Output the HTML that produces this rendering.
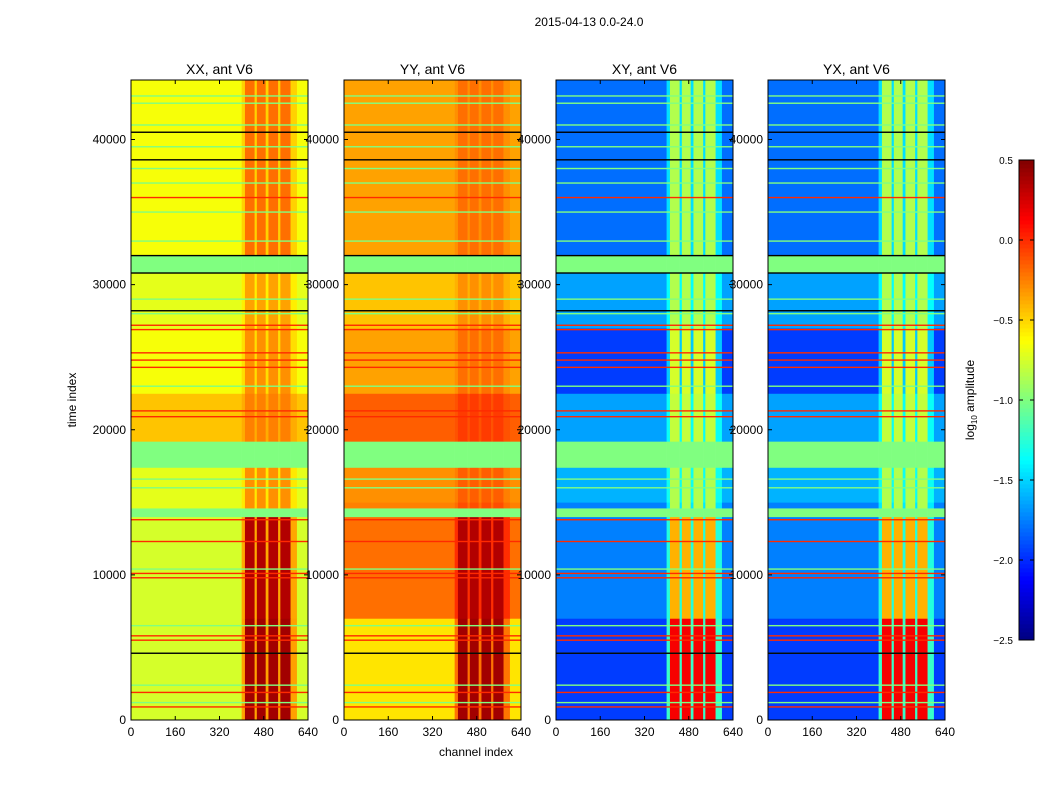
<!DOCTYPE html>
<html><head><meta charset="utf-8">
<style>
body{margin:0;background:#fff;width:1050px;height:800px;overflow:hidden}
svg text{font-family:"Liberation Sans",sans-serif;fill:#000}
</style></head>
<body>
<svg id="fig" width="1050" height="800" xmlns="http://www.w3.org/2000/svg">
<rect width="1050" height="800" fill="#fff"/>
<text x="589" y="26" font-size="12" text-anchor="middle">2015-04-13 0.0-24.0</text>
<text x="476" y="756" font-size="12" text-anchor="middle">channel index</text>
<text transform="translate(76,400) rotate(-90)" font-size="12" text-anchor="middle">time index</text>
<g id="panels"></g>
<g id="cbar"></g>
</svg>
<script>
// ---- data ----
const panelTitles = ["XX, ant V6","YY, ant V6","XY, ant V6","YX, ant V6"];
const xTicks = [0,160,320,480,640];
const yTicks = [0,10000,20000,30000,40000];
const cbarTicks = [0.5,0.0,-0.5,-1.0,-1.5,-2.0,-2.5];
// time segments [start,end]
const segStart = [0,7000,14000,14600,15000,17400,19200,22500,27000,30800,32000];
const segEnd   = [7000,14000,14600,15000,17400,19200,22500,27000,30800,32000,44100];
// base / hot-stripe log amplitudes per segment
const xxBase = [-0.75,-0.75,-1.0,-0.7,-0.7,-1.0,-0.45,-0.65,-0.7,-1.0,-0.65];
const xxHot  = [0.4,0.35,-1.0,-0.3,-0.3,-1.0,-0.25,-0.3,-0.35,-1.0,-0.2];
const yyBase = [-0.55,-0.2,-1.0,-0.25,-0.3,-1.0,-0.15,-0.35,-0.45,-1.0,-0.35];
const yyHot  = [0.4,0.35,-1.0,-0.1,-0.15,-1.0,-0.05,-0.2,-0.3,-1.0,-0.2];
const xyBase = [-1.95,-1.75,-1.0,-1.75,-1.6,-1.0,-1.65,-1.95,-1.65,-1.0,-1.8];
const xyHot  = [0.15,-0.4,-1.0,-0.85,-0.85,-1.0,-0.8,-0.75,-0.85,-1.0,-0.85];
// hot channel stripes [start,end]
const stripeStart = [412,455,497,540];
const stripeEnd   = [447,487,532,577];
// horizontal line events
const redLines = [900,1900,5500,5800,9800,10100,12300,13800,20900,21300,24300,24800,25300,26900,27200,36000];
const greenLines = [1200,2400,4600,6500,10400,16000,16600,23000,28000,29000,33000,35000,37000,38000,39500,41000,42500,43000];
const blackLines = [4600,28200,30800,32000,38600,40500];
</script>
<script>
const NS="http://www.w3.org/2000/svg";
const panelX=[131,344,556,768], PW=177, PT=80, PB=720, YMAX=44100, VMIN=-2.5, VMAX=0.5;
function jet(v){
  let t=(v-VMIN)/(VMAX-VMIN); t=Math.max(0,Math.min(1,t));
  const f=x=>Math.round(255*Math.max(0,Math.min(1,x)));
  return `rgb(${f(1.5-Math.abs(4*t-3))},${f(1.5-Math.abs(4*t-2))},${f(1.5-Math.abs(4*t-1))})`;
}
function mk(tag,attrs,parent){const e=document.createElementNS(NS,tag);for(const k in attrs)e.setAttribute(k,attrs[k]);parent.appendChild(e);return e;}
const yS=t=>PB-(t/YMAX)*(PB-PT);
const panelsG=document.getElementById('panels');
const bases=[xxBase,yyBase,xyBase,xyBase], hots=[xxHot,yyHot,xyHot,xyHot];
panelTitles.forEach((title,p)=>{
  const x0=panelX[p], xS=c=>x0+c/640*PW;
  const g=mk('g',{},panelsG);
  
  
  const edges=[0,400];
  stripeStart.forEach((s,i)=>{edges.push(s,stripeEnd[i]);});
  edges.push(600,640);
  segStart.forEach((s,i)=>{
    const b=bases[p][i], h=hots[p][i];
    for(let k=0;k<edges.length-1;k++){
      const c0=edges[k],c1=edges[k+1];
      let v=b;
      if(stripeStart.indexOf(c0)>=0) v=h;
      else if(c0>=400&&c1<=600) v=b+0.35*(h-b);
      const r=mk('rect',{x:xS(c0),y:yS(segEnd[i]),width:xS(c1)-xS(c0)+0.3,height:yS(s)-yS(segEnd[i])+0.3,fill:jet(v)},g);
      
      
    }
  });
  const lineSets=[[redLines,jet(0.0)],[greenLines,jet(-1.0)],[blackLines,'#000']];
  lineSets.forEach(([arr,col])=>arr.forEach(t=>{
    const l=mk('rect',{x:x0,y:yS(t)-0.7,width:PW,height:1.4,fill:col},g);
    
    
  }));
  mk('rect',{x:x0,y:PT,width:PW,height:PB-PT,fill:'none',stroke:'#000','stroke-width':1},g);
  const tt=mk('text',{x:x0+PW/2,y:PT-6,'font-size':14,'text-anchor':'middle'},g);
  tt.textContent=title;
  
  
  xTicks.forEach(c=>{
    mk('line',{x1:xS(c),x2:xS(c),y1:PB,y2:PB-4,stroke:'#000'},g);
    mk('line',{x1:xS(c),x2:xS(c),y1:PT,y2:PT+4,stroke:'#000'},g);
    const t=mk('text',{x:xS(c),y:PB+16,'font-size':12,'text-anchor':'middle'},g);
    t.textContent=c;
    
    
  });
  yTicks.forEach(v=>{
    mk('line',{x1:x0,x2:x0+4,y1:yS(v),y2:yS(v),stroke:'#000'},g);
    mk('line',{x1:x0+PW,x2:x0+PW-4,y1:yS(v),y2:yS(v),stroke:'#000'},g);
    const t=mk('text',{x:x0-5,y:yS(v)+4,'font-size':12,'text-anchor':'end'},g);
    t.textContent=v;
    
    
  });
});
// colorbar
const cb=document.getElementById('cbar');


const CBX=1019,CBW=15,CBT=160,CBB=640;
const cbY=v=>CBB-(v-VMIN)/(VMAX-VMIN)*(CBB-CBT);
for(let i=0;i<120;i++){
  const v0=VMIN+i*(VMAX-VMIN)/120, v1=VMIN+(i+1)*(VMAX-VMIN)/120;
  mk('rect',{x:CBX,y:cbY(v1),width:CBW,height:cbY(v0)-cbY(v1)+0.4,fill:jet((v0+v1)/2)},cb);
}
mk('rect',{x:CBX,y:CBT,width:CBW,height:CBB-CBT,fill:'none',stroke:'#000'},cb);
cbarTicks.forEach(v=>{
  mk('line',{x1:CBX,x2:CBX+4,y1:cbY(v),y2:cbY(v),stroke:'#000'},cb);
  mk('line',{x1:CBX+CBW-4,x2:CBX+CBW,y1:cbY(v),y2:cbY(v),stroke:'#000'},cb);
  const t=mk('text',{x:CBX-6,y:cbY(v)+4,'font-size':10,'text-anchor':'end'},cb);
  t.textContent=v.toFixed(1).replace('-','\u2212');
  
  
});
const cl=mk('text',{transform:'translate(974,400) rotate(-90)','font-size':12,'text-anchor':'middle'},cb);
cl.innerHTML='log<tspan font-size="8" dy="3">10</tspan><tspan dy="-3"> amplitude</tspan>';


</script>
</body></html>
